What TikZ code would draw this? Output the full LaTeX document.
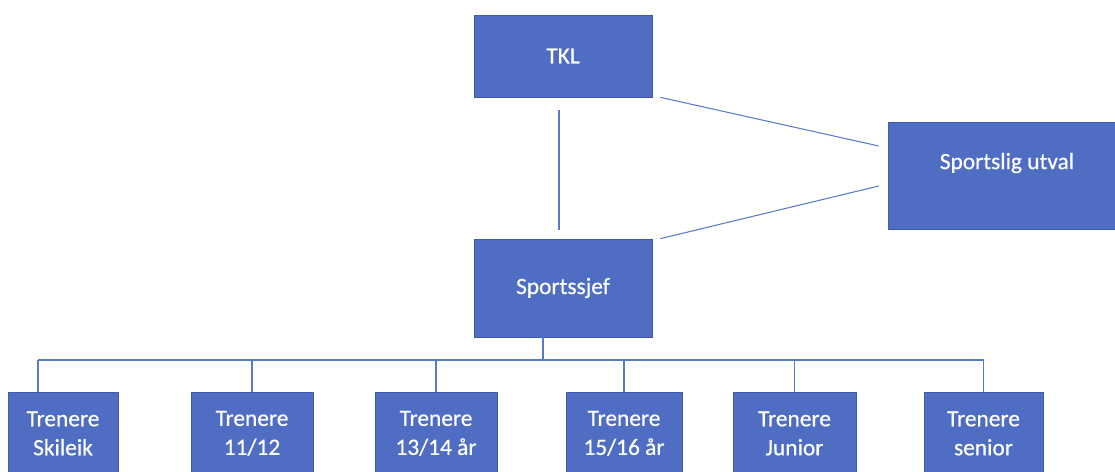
\documentclass[tikz,border=0pt]{standalone}
\usepackage{fontspec}
\setmainfont{Carlito}
\newfontfamily\orgfont[FakeBold=0.5]{Carlito}
\usetikzlibrary{positioning}

\definecolor{orgblue}{RGB}{79,110,195}
\definecolor{orgedge}{RGB}{64,91,168}
\definecolor{orgwire}{RGB}{88,122,204}

\begin{document}
\begin{tikzpicture}[x=0.02cm, y=-0.02cm]
  \newcommand\topboxwidth{3.56cm}
  \newcommand\sideboxwidth{4.76cm}
  \newcommand\leafboxheight{1.64cm}

  \tikzset{orgtext/.style={text=white, font=\orgfont\fontsize{13.3}{16.5}\selectfont, align=center}}
  \tikzset{orgbox/.style={orgtext, draw=orgedge, line width=0.4pt, fill=orgblue, inner sep=0pt}}
  \tikzset{orgwire/.style={draw=orgwire, line width=0.6pt}}

  \clip (0,0) rectangle (1115,472);

  \node[orgbox, minimum width=\topboxwidth, minimum height=1.64cm] at (563,56) (tkl) {TKL};
  \node[orgbox, minimum width=\topboxwidth, minimum height=1.96cm] at (563,288) (sjef) {Sportssjef};
  \node[orgbox, minimum width=\sideboxwidth, minimum height=2.14cm,
        label={[orgtext, yshift=0.25cm]center:Sportslig utval}] at (1007,175.5) (utval) {};

  \draw[orgwire, shorten <=0.26cm, shorten >=0.18cm] ([xshift=-0.08cm]tkl.south) -- ([xshift=-0.08cm]sjef.north);
  \draw[orgwire] ([xshift=0.16cm]tkl.south east) -- ([xshift=-0.18cm, yshift=0.59cm]utval.west);
  \draw[orgwire] ([xshift=0.16cm]sjef.north east) -- ([xshift=-0.18cm, yshift=-0.21cm]utval.west);

  \coordinate (bus) at (543,360);
  \draw[orgwire] (sjef.south -| bus) -- (bus);

  \foreach \name/\cx/\boxwd/\dx/\txt in {skileik/63/2.2cm/-0.5cm/{Trenere\\Skileik},
                                         aar1112/252/2.44cm/0cm/{Trenere\\11/12},
                                         aar1314/436/2.44cm/0cm/{Trenere\\13/14 år},
                                         aar1516/624/2.32cm/0cm/{Trenere\\15/16 år},
                                         junior/794.5/2.46cm/0cm/{Trenere\\Junior},
                                         senior/983.5/2.38cm/0cm/{Trenere\\senior}}{
    \node[orgbox, anchor=north, minimum width=\boxwd, minimum height=\leafboxheight] at (\cx,392) (\name) {\txt};
    \coordinate (\name-in) at ([xshift=\dx]\name.north);
    \draw[orgwire] (\name-in |- bus) -- (\name-in);
  }

  \draw[orgwire] (skileik-in |- bus) -- (senior-in |- bus);
\end{tikzpicture}
\end{document}
